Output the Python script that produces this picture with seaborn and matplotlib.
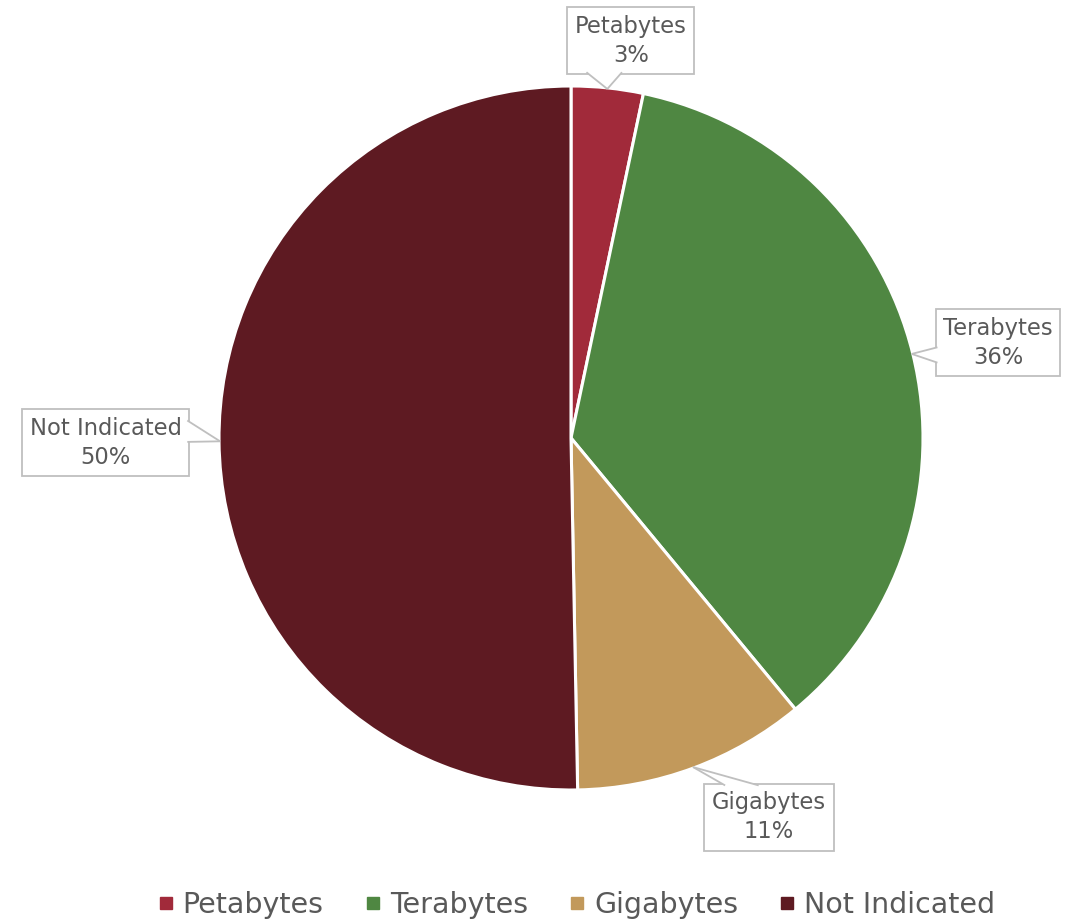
import matplotlib
matplotlib.use("Agg")
import matplotlib.pyplot as plt
from matplotlib.lines import Line2D
from matplotlib.patches import Polygon
import numpy as np
import seaborn as sns

categories = ["Petabytes", "Terabytes", "Gigabytes", "Not Indicated"]
values = [3.3, 35.7, 10.7, 50.3]
pct_labels = ["3%", "36%", "11%", "50%"]
colors = ["#A12A3A", "#4F8742", "#C2995B", "#5E1A22"]

sns.set_theme(style="white")
plt.rcParams['font.family'] = ['DejaVu Sans']

W, H = 1079, 919
fig = plt.figure(figsize=(W / 100, H / 100), dpi=100)
cx, cy, r = 571, 438, 352
ax = fig.add_axes([(cx - r) / W, (H - cy - r) / H, 2 * r / W, 2 * r / H])

wedges, _ = ax.pie(values, colors=colors, startangle=90, counterclock=False,
                   radius=1, wedgeprops=dict(edgecolor="white", linewidth=2.2))
ax.set_xlim(-1, 1)
ax.set_ylim(-1, 1)
ax.set_aspect("equal")
ax.axis("off")

gray = "#BFBFBF"
# label box centres (data coords, relative to radius) and callout pointer layout
box_pos = [(0.170, 1.129), (1.213, 0.271), (0.5625, -1.077), (-1.322, -0.013)]
# side of box the pointer leaves from, and span along that side (fractions,
# left->right for top/bottom, top->bottom for left/right)
pointer = [("bottom", 0.15, 0.43), ("left", 0.57, 0.80),
           ("top", 0.16, 0.42), ("right", 0.17, 0.49)]

texts = []
for w, name, pct, (bx, by) in zip(wedges, categories, pct_labels, box_pos):
    t = ax.text(bx, by, f"{name}\n{pct}", ha="center", va="center",
                fontsize=16.3, color="#595959", linespacing=1.33,
                bbox=dict(boxstyle="square,pad=0.33", fc="white", ec=gray, lw=1.3),
                clip_on=False, zorder=5)
    texts.append((t, w))

fig.canvas.draw()
inv = ax.transData.inverted()
for (t, w), (side, f0, f1) in zip(texts, pointer):
    bb = t.get_bbox_patch().get_window_extent()
    (x0, y0), (x1, y1) = inv.transform([[bb.x0, bb.y0], [bb.x1, bb.y1]])
    ang = np.deg2rad((w.theta1 + w.theta2) / 2)
    tip = (np.cos(ang) * 0.997, np.sin(ang) * 0.997)
    eps = 0.005
    if side == "bottom":
        base = [(x0 + f0 * (x1 - x0), y0 + eps), (x0 + f1 * (x1 - x0), y0 + eps)]
    elif side == "top":
        base = [(x0 + f0 * (x1 - x0), y1 - eps), (x0 + f1 * (x1 - x0), y1 - eps)]
    elif side == "left":
        base = [(x0 + eps, y1 - f0 * (y1 - y0)), (x0 + eps, y1 - f1 * (y1 - y0))]
    else:
        base = [(x1 - eps, y1 - f0 * (y1 - y0)), (x1 - eps, y1 - f1 * (y1 - y0))]
    poly = Polygon([base[0], tip, base[1]], closed=True, fc="white", ec="none",
                   zorder=6, clip_on=False)
    ax.add_patch(poly)
    for b in base:
        ax.plot([b[0], tip[0]], [b[1], tip[1]], color=gray, lw=1.3, zorder=7,
                clip_on=False, solid_capstyle="butt")

handles = [Line2D([0], [0], marker="s", color="none", markerfacecolor=c,
                  markeredgecolor=c, markersize=9) for c in colors]
fig.legend(handles, categories, loc="lower center", bbox_to_anchor=(0.534, -0.028),
           ncol=4, frameon=False, fontsize=20.5, handlelength=0.6, handletextpad=0.3,
           columnspacing=1.42, labelcolor="#595959")

fig.savefig("out.png", dpi=100)
